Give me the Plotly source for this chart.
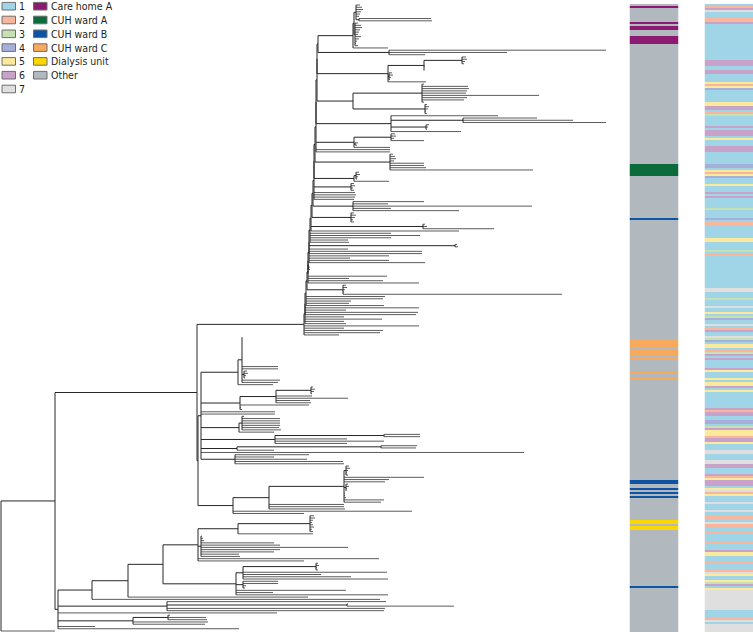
import plotly.graph_objects as go

# ---------------- tree data (genetic distance, drawn in axis units) ----------------
# internal node = [node_distance, child, child, ...]; tip = tip distance
U1 = [352,
      [353,
       [355, 359, 361, 362, 360, 359, 358, [358, 430, 431]],
       [354, 357, 360, 361, 359, 358, 357, 360, 358, 356, 355, 357]],
      387]
U2 = [388, 605, 506, 424]
U3 = [387, [423, [461, 465, 466, 464, 463], 424, 423, 423], [388, 391, 392, 390, 389], 425]
U4 = [352, [421, 423, 467, 468, 466, 465, 538, 466, 463, 423], [424, 426, 428, 427, 425, 426]]
U5 = [390, 497, [462, 536, 572, 605], [425, 428, 427, 426], 460]
U6 = [353, [390, 394, 395, 393, 423], [354, 357, 356], 389]
U7 = [389, 392, 394, 395, 393, 423, 423, 425, 532]
U8 = [353, [355, 358, 359, 357, 356], 388]
U9_items = [[350, 353, 354, 352, 353], 354, 355, 354, 353]
U10 = [352, 423, 387, 531, 390, 458]
U11 = [350, 353, 355, 354, 352, 353]
U12_items = [[422, 424, 426, 493], 458]
U13_items = [390, 419, 390, 347, 348]
U14_items = [[454, 456, 457], 347, 421, 421]
U15_items = [388, 349, 388, 424]
U16 = [307, 308, 309, 309, 308, 307]
U17_items = [386, 348, 382, 418]
U18 = [342, 345, 346, 344, 343, 561]
U19_items = [384, 382, 350, 348, 383]
U20_items = [418, 345, 417, 415]
U21_items = [343, 381, 343, 345]
U22_items = [418, 343, 382, 379, 338]

U_LADDER_X = [317, 316, 316, 315, 315, 314, 313, 313, 312, 311, 310,
              309, 308, 308, 307, 307, 306, 305, 304, 304, 303]
U_LADDER_ITEMS = [[U1, U2], [U3], [U4], [U5], [U6, 389, 389], [U7], [U8],
                  U9_items, [U10], [U11], U12_items, U13_items, U14_items,
                  U15_items, [U16], U17_items, [U18], U19_items, U20_items,
                  U21_items, U22_items]

M1 = [237, [241, 241, 241, 241, 241, 241, 241, 241, 241, 241, 241, 241, 241, 241,
            277, 277, [243, 246, 247, 245, 244], 279, 277], 272]
M2 = [239, [275, [310, 312, 314, 313, 311], 311, 347, 309, 310], 308, 240, 241]
M3 = [238, [241, 243, 279, 279, 279, 279, 278, 280], 273]
M4 = [274, [383, 419, 419], 346, 383, 346]
M5 = [236, [380, 416, 415], 273]
M6 = [234, 308, 273, 306, 342, 343]
B2 = [200, M1, M2, 274, 274, M3, M4, M5, 523, M6]
M7 = [232, [268, [343, [345, 348, 349, 347, 346, 347], 423, 388, 384,
                   [345, 347, 348, 346, 345], 344, 344, 345, 383, 380],
            343, 343, 344], 411, 303]

G = [237, [309, 313, 314, 312, 311, 312, 313, 311, 312], 312]
F2 = [200, 201, 202, 203, 273, 279, 347, 279, 273, 238, 239]
F = [197, G, F2, 378, 303]
H = [235, [242, [315, 317, 318, 316, 317], 386, 320, 350, 387],
     [242, 277, 277, 245, 244], 345, 272, 387]
E = [162, F, H]
D = [127, E, 307]
C = [91, D, 379]
I = [166, 385, [346, 347, 453], 384, 383]
J = [132, [167, 169, 205, 206], 207, 204]
OUTGROUP_TIP = 54

# ---------------- strip data ----------------
LOC_LABELS = ["Care home A", "CUH ward A", "CUH ward B", "CUH ward C", "Dialysis unit", "Other"]
LOC_COLORS = ["#8c1a72", "#0b6b3a", "#0f54a2", "#f7a95c", "#fcd600", "#b2b9be"]
LOC_CODES = [5, 0, 5, 0, 5, 0, 5, 0, 5, 1, 5, 2, 5, 3, 5, 3, 5, 3, 5, 3, 5, 3, 5,
             2, 5, 2, 5, 2, 5, 2, 5, 4, 5, 4, 5, 2, 5]
LOC_RUNS = [1, 1, 7, 1, 1, 2, 3, 4, 60, 6, 21, 1, 60, 4, 1, 3, 1, 1, 6, 1, 2, 1, 50,
            2, 2, 1, 1, 1, 1, 1, 11, 2, 1, 2, 28, 1, 22]

CLU_LABELS = ["1", "2", "3", "4", "5", "6", "7"]
CLU_COLORS = ["#9fd5e6", "#f8b69c", "#c5e0b2", "#a6afda", "#fde99c", "#c8a2c9", "#dfdfdf"]
CLU_CODES = [1, 2, 6, 7, 1, 2, 6, 1, 6, 1, 6, 1, 5, 2, 5, 4, 1, 5, 6, 1, 2, 3, 1, 6, 1, 6,
             1, 5, 1, 6, 1, 4, 1, 5, 2, 5, 4, 1, 5, 1, 6, 1, 6, 1, 3, 1, 4, 1, 2, 1, 5, 1,
             3, 1, 2, 1, 7, 1, 3, 1, 7, 1, 5, 1, 3, 4, 1, 7, 1, 2, 6, 1, 7, 3, 4, 1, 5, 1,
             2, 3, 6, 1, 6, 1, 6, 5, 1, 5, 1, 5, 6, 1, 5, 1, 6, 2, 6, 1, 4, 1, 3, 6, 5, 2,
             6, 5, 1, 7, 1, 7, 6, 1, 6, 2, 5, 6, 1, 5, 7, 2, 5, 1, 7, 1, 7, 1, 2, 1, 7, 2,
             1, 2, 1, 2, 1, 6, 5, 1, 2, 1, 2, 7, 5, 1, 5, 3, 6, 1, 5, 7, 1, 2, 7, 1, 7]
CLU_RUNS = [1, 1, 1, 1, 3, 2, 1, 18, 3, 2, 2, 4, 1, 1, 1, 1, 6, 2, 2, 1, 1, 1, 5, 1, 1, 3,
            1, 1, 3, 3, 6, 2, 1, 1, 1, 1, 1, 3, 1, 3, 1, 1, 1, 5, 1, 4, 1, 1, 2, 6, 2, 4,
            1, 1, 1, 16, 2, 3, 1, 3, 1, 2, 1, 1, 1, 1, 2, 1, 1, 1, 1, 2, 1, 1, 1, 1, 2, 1,
            1, 1, 1, 1, 1, 4, 1, 1, 3, 1, 1, 2, 1, 1, 1, 8, 1, 1, 2, 2, 2, 1, 1, 1, 3, 1,
            2, 1, 3, 2, 3, 2, 2, 3, 1, 1, 1, 3, 1, 1, 1, 1, 1, 3, 1, 3, 1, 2, 2, 1, 1, 2,
            2, 1, 4, 1, 3, 1, 2, 3, 1, 3, 1, 1, 1, 2, 1, 1, 1, 1, 1, 10, 4, 1, 1, 1, 4]

# ---------------- build tree ----------------
def build_ladder(xs, items):
    node = [xs[0]] + list(items[0])
    for x, it in zip(xs[1:], items[1:]):
        node = [x, node] + list(it)
    return node

U = build_ladder(U_LADDER_X, U_LADDER_ITEMS)
B = [196, U, [197, B2, M7]]
L = [57, C, I, 276, J, 94, 238]
A = [54, B, L]
ROOT = [0, A, OUTGROUP_TIP]

inner_x, inner_y = [], []   # internal edges (dark)
tip_x, tip_y = [], []       # terminal edges (grey)
row = [0]


def place(node, parent_x):
    if isinstance(node, list):
        x = node[0]
        ys = [place(ch, x) for ch in node[1:]]
        y = (ys[0] + ys[-1]) / 2.0
        inner_x.extend([x, x, None])
        inner_y.extend([ys[0], ys[-1], None])
        tx, ty = inner_x, inner_y
    else:
        x = node
        y = row[0]
        row[0] += 1
        tx, ty = tip_x, tip_y
    if parent_x is not None:
        tx.extend([parent_x, x, None])
        ty.extend([y, y, None])
    return y


place(ROOT, None)
n_tips = row[0]

W, Hh = 753, 632
px_per_row = (631 - 5) / (n_tips - 1)
y_top = -5 / px_per_row
y_bot = y_top + Hh / px_per_row

fig = go.Figure()
fig.add_trace(go.Scatter(x=tip_x, y=tip_y, mode="lines",
                         line=dict(color="#5c5c5c", width=1),
                         hoverinfo="skip", showlegend=False))
fig.add_trace(go.Scatter(x=inner_x, y=inner_y, mode="lines",
                         line=dict(color="#262626", width=1),
                         hoverinfo="skip", showlegend=False))


def expand(codes, runs):
    out = []
    for c, r in zip(codes, runs):
        out.extend([c] * r)
    return out


def discrete_scale(colors):
    k = len(colors)
    sc = []
    for i, c in enumerate(colors):
        sc.append([i / k, c])
        sc.append([(i + 1) / k, c])
    return sc


loc_rows = expand(LOC_CODES, LOC_RUNS)
clu_rows = expand(CLU_CODES, CLU_RUNS)

fig.add_trace(go.Heatmap(z=[[c] for c in loc_rows], x=[0],
                         y=[i + 0.5 for i in range(len(loc_rows))],
                         colorscale=discrete_scale(LOC_COLORS), zmin=-0.5,
                         zmax=len(LOC_COLORS) - 0.5, showscale=False,
                         hoverinfo="skip", xaxis="x2", yaxis="y2"))
fig.add_trace(go.Heatmap(z=[[c] for c in clu_rows], x=[0],
                         y=[i + 0.5 for i in range(len(clu_rows))],
                         colorscale=discrete_scale(CLU_COLORS), zmin=0.5,
                         zmax=len(CLU_COLORS) + 0.5, showscale=False,
                         hoverinfo="skip", xaxis="x3", yaxis="y3"))

strip_dom = [0, 628 / Hh]
fig.update_layout(
    width=W, height=Hh, margin=dict(l=0, r=0, t=0, b=0),
    paper_bgcolor="white", plot_bgcolor="rgba(0,0,0,0)",
    showlegend=False,
    xaxis=dict(domain=[0, 1], range=[-1, W - 1], visible=False, fixedrange=True),
    yaxis=dict(domain=[0, 1], range=[y_bot, y_top], visible=False, fixedrange=True),
    xaxis2=dict(domain=[629.5 / W, 678.5 / W], range=[-0.5, 0.5], visible=False, anchor="y2"),
    yaxis2=dict(domain=strip_dom, range=[len(loc_rows), 0], visible=False, anchor="x2"),
    xaxis3=dict(domain=[704.5 / W, 1], range=[-0.5, 0.5], visible=False, anchor="y3"),
    yaxis3=dict(domain=strip_dom, range=[len(clu_rows), 0], visible=False, anchor="x3"),
)

# legend (two columns of swatches with labels)
font = dict(family="Liberation Sans Narrow, DejaVu Sans Condensed, Liberation Sans, Arial, sans-serif",
            size=10.5, color="#231f20")
shapes, annos = [], []


def add_legend_column(labels, colors, x0px):
    for k, (lab, col) in enumerate(zip(labels, colors)):
        cy = 6.2 + 13.8 * k
        shapes.append(dict(type="rect", xref="paper", yref="paper",
                           x0=x0px / W, x1=(x0px + 13.5) / W,
                           y0=1 - (cy + 3.8) / Hh, y1=1 - (cy - 3.8) / Hh,
                           fillcolor=col, line=dict(color="#6f6f6f", width=1)))
        annos.append(dict(text=lab, xref="paper", yref="paper",
                          x=(x0px + 16) / W, y=1 - cy / Hh, xanchor="left",
                          yanchor="middle", showarrow=False, font=font, borderpad=0))


add_legend_column(CLU_LABELS, CLU_COLORS, 2)
add_legend_column(LOC_LABELS, LOC_COLORS, 33.5)
fig.update_layout(shapes=shapes, annotations=annos)

fig.write_html("out.html", config={"displayModeBar": False},
               post_script="document.body.style.margin='0';")
